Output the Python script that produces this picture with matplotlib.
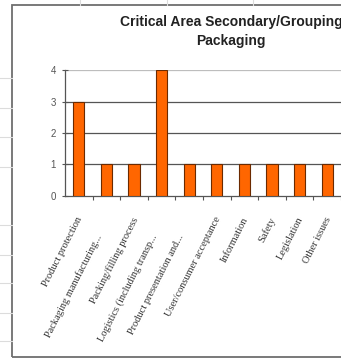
import math
import matplotlib
matplotlib.use("Agg")
import matplotlib.pyplot as plt
from matplotlib.patches import Rectangle
from matplotlib.lines import Line2D

# Chart data
categories = [
    "Product protection",
    "Packaging manufacturing...",
    "Packing/filling process",
    "Logistics (including transp...",
    "Product presentation and...",
    "User/consumer acceptance",
    "Information",
    "Safety",
    "Legislation",
    "Other issues",
]
counts = [3, 1, 1, 4, 1, 1, 1, 1, 1, 1]
y_ticks = [0, 1, 2, 3, 4]
title = "Critical Area Secondary/Grouping\nPackaging"

W, H = 341, 360
fig = plt.figure(figsize=(W / 100, H / 100), dpi=100)
fig.patch.set_facecolor("white")

def fx(px):
    return px / W

def fy(py):
    return 1 - py / H

# faint worksheet cell lines around the chart frame
for yy in [78, 108, 137, 167, 225, 255, 283, 313, 341]:
    fig.add_artist(Line2D([0, fx(12)], [fy(yy), fy(yy)], color="#dcdcdc", lw=0.8))
for xx in [80, 167, 253]:
    fig.add_artist(Line2D([fx(xx), fx(xx)], [fy(0), fy(5)], color="#dcdcdc", lw=0.8))

# chart frame
fig.add_artist(Rectangle((fx(12), fy(357)), 1.0, fy(5) - fy(357),
                         transform=fig.transFigure, fill=False,
                         edgecolor="#6e6e6e", lw=1.3))

# plot area
left, right, top, bottom = 65, 341, 70, 196
ax = fig.add_axes([fx(left), fy(bottom), fx(right - left), fy(top) - fy(bottom)])
ax.set_facecolor("white")

x = list(range(len(categories)))
ax.bar(x, counts, width=0.4, color="#ff6600", edgecolor="#6b2a00", linewidth=0.8, zorder=3)

ax.set_xlim(-0.5, len(categories) - 0.5)
ax.set_ylim(0, 4)

for v in y_ticks[1:]:
    ax.axhline(v, color="#bdbdbd" if v == 4 else "#555555", lw=0.9, zorder=1)

for s in ["top", "right"]:
    ax.spines[s].set_visible(False)
ax.spines["left"].set_color("#555555")
ax.spines["bottom"].set_color("#555555")
ax.spines["left"].set_linewidth(0.9)
ax.spines["bottom"].set_linewidth(0.9)

ax.set_yticks(y_ticks)
ax.set_yticklabels([str(v) for v in y_ticks], fontfamily="Liberation Sans",
                   fontsize=7, color="#555555")
ax.tick_params(axis="y", direction="inout", length=5, width=0.8, color="#555555", pad=4)

# category boundaries carry the x ticks
ax.set_xticks([i + 0.5 for i in x], minor=False)
ax.set_xticklabels([])
ax.tick_params(axis="x", direction="out", length=3, width=0.8, color="#555555")

# rotated category names; truncated names sit further down their own direction
angle = 63
for i, lab in enumerate(categories):
    ox, oy = -2.0, -14.0
    if lab.endswith("..."):
        ox -= 14 * math.cos(math.radians(angle))
        oy -= 14 * math.sin(math.radians(angle))
    ax.annotate(lab, xy=(i, 0), xycoords=("data", "axes fraction"),
                xytext=(ox, oy), textcoords="offset points",
                rotation=angle, rotation_mode="anchor", ha="right", va="top",
                fontfamily="Liberation Serif", fontsize=7.5, color="#333333",
                annotation_clip=False)

fig.text(fx(231), fy(15), title, ha="center", va="top",
         fontfamily="Liberation Sans", fontweight="bold", fontsize=10,
         color="#222222", linespacing=1.45)

fig.savefig("out.png", dpi=100)
